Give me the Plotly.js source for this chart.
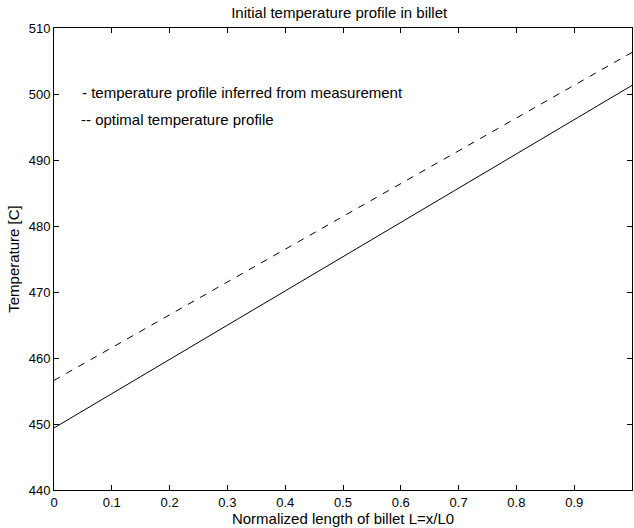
<!DOCTYPE html>
<html>
<head>
<meta charset="utf-8">
<script src="https://cdn.plot.ly/plotly-3.0.1.min.js"></script>
<style>html,body{margin:0;padding:0;background:#fff;}#plot{width:634px;height:528px;}</style>
</head>
<body>
<div id="plot"></div>
<script>
const xPos = [0, 1];
const measuredTemp = [449.4, 501.3];
const optimalTemp = [456.6, 506.3];
const xTicks = [0, 0.1, 0.2, 0.3, 0.4, 0.5, 0.6, 0.7, 0.8, 0.9, 1];
const xTickLabels = ['0', '0.1', '0.2', '0.3', '0.4', '0.5', '0.6', '0.7', '0.8', '0.9', '1'];
const yTicks = [440, 450, 460, 470, 480, 490, 500, 510];
const legendLabels = ['- temperature profile inferred from measurement', '-- optimal temperature profile'];

const fam = 'Liberation Sans, Arial, sans-serif';
const tickFont = {family: fam, color: '#000', size: 13};
const textFont = {family: fam, color: '#000', size: 15};

const traces = [
  {x: xPos, y: measuredTemp, mode: 'lines', name: 'temperature profile inferred from measurement',
   line: {color: '#000', width: 1}},
  {x: xPos, y: optimalTemp, mode: 'lines', name: 'optimal temperature profile',
   line: {color: '#000', width: 1, dash: '7px,7px'}}
];

const axisCommon = {
  showgrid: false, zeroline: false, showline: true, linecolor: '#000', linewidth: 1,
  mirror: 'ticks', ticks: 'inside', ticklen: 5, tickcolor: '#000', tickwidth: 1,
  tickfont: tickFont
};

const layout = {
  width: 634, height: 528,
  margin: {l: 54, r: 2, t: 28, b: 38},
  paper_bgcolor: '#fff', plot_bgcolor: '#fff',
  font: tickFont,
  showlegend: false,
  title: {text: 'Initial temperature profile in billet', font: textFont,
          x: 0.535, xanchor: 'center', y: 0.975, yanchor: 'middle'},
  xaxis: Object.assign({}, axisCommon, {
    range: [0, 1], tickvals: xTicks, ticktext: xTickLabels,
    title: {text: 'Normalized length of billet L=x/L0', font: textFont, standoff: 1}
  }),
  yaxis: Object.assign({}, axisCommon, {
    range: [440, 510], tickvals: yTicks,
    title: {text: 'Temperature [C]', font: textFont, standoff: 5}
  }),
  annotations: [
    {xref: 'paper', yref: 'paper', x: 0.045, y: 0.861, xanchor: 'left', yanchor: 'middle',
     text: legendLabels[0], showarrow: false, font: textFont},
    {xref: 'paper', yref: 'paper', x: 0.043, y: 0.801, xanchor: 'left', yanchor: 'middle',
     text: legendLabels[1], showarrow: false, font: textFont}
  ]
};

Plotly.newPlot('plot', traces, layout, {displayModeBar: false, staticPlot: true});
</script>
</body>
</html>
